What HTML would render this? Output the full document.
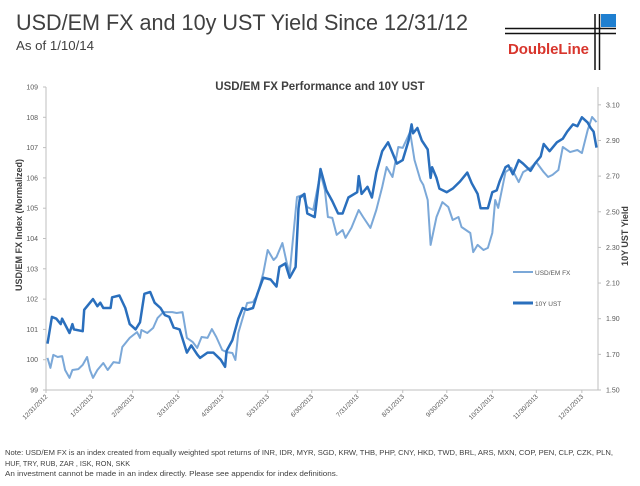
<!DOCTYPE html>
<html><head><meta charset="utf-8"><style>
html,body{margin:0;padding:0;background:#fff;}
svg{display:block;font-family:"Liberation Sans",sans-serif;}
</style></head><body>
<svg id="c" width="640" height="486" viewBox="0 0 640 486" xmlns="http://www.w3.org/2000/svg">
<text x="16" y="30" font-size="22" fill="#404040" textLength="452" lengthAdjust="spacingAndGlyphs">USD/EM FX and 10y UST Yield Since 12/31/12</text>
<text x="16" y="50" font-size="13" fill="#404040" textLength="78" lengthAdjust="spacingAndGlyphs">As of 1/10/14</text>
<g>
<line x1="505" y1="28.5" x2="616" y2="28.5" stroke="#111" stroke-width="1.5"/>
<line x1="505" y1="33.5" x2="616" y2="33.5" stroke="#111" stroke-width="1.5"/>
<line x1="595" y1="14" x2="595" y2="70" stroke="#111" stroke-width="1.5"/>
<line x1="599.5" y1="14" x2="599.5" y2="70" stroke="#111" stroke-width="1.5"/>
<rect x="601" y="14" width="15" height="13" fill="#1f7fd0"/>
<text x="508" y="54" font-size="15" font-weight="bold" fill="#d8352c" textLength="81">DoubleLine</text>
</g>
<text x="320" y="90" font-size="11.5" font-weight="bold" fill="#404040" text-anchor="middle">USD/EM FX Performance and 10Y UST</text>
<g id="axes"></g>
<g id="plot"></g>
<g>
<line x1="513" y1="272" x2="533" y2="272" stroke="#7ba8d8" stroke-width="2"/>
<text x="535" y="275" font-size="6.5" fill="#595959">USD/EM FX</text>
<line x1="513" y1="303" x2="533" y2="303" stroke="#2a6fbd" stroke-width="3"/>
<text x="535" y="306" font-size="6.5" fill="#595959">10Y UST</text>
</g>
<text transform="translate(22,225) rotate(-90)" font-size="9" font-weight="bold" fill="#404040" text-anchor="middle">USD/EM FX Index (Normalized)</text>
<text transform="translate(628,236) rotate(-90)" font-size="9" font-weight="bold" fill="#404040" text-anchor="middle">10Y UST Yield</text>
<g font-size="7.5" fill="#404040">
<text x="5" y="455" textLength="608" lengthAdjust="spacingAndGlyphs">Note: USD/EM FX is an index created from equally weighted spot returns of INR, IDR, MYR, SGD, KRW, THB, PHP, CNY, HKD, TWD, BRL, ARS, MXN, COP, PEN, CLP, CZK, PLN,</text>
<text x="5" y="466" textLength="125" lengthAdjust="spacingAndGlyphs">HUF, TRY, RUB, ZAR , ISK, RON, SKK</text>
<text x="5" y="476" textLength="333" lengthAdjust="spacingAndGlyphs">An investment cannot be made in an index directly. Please see appendix for index definitions.</text>
</g>
</svg>
<script>
const leftTicks=[99,100,101,102,103,104,105,106,107,108,109];
const rightTicks=["1.50","1.70","1.90","2.10","2.30","2.50","2.70","2.90","3.10"];
const dateLabels=["12/31/2012","1/31/2013","2/28/2013","3/31/2013","4/30/2013","5/31/2013","6/30/2013","7/31/2013","8/31/2013","9/30/2013","10/31/2013","11/30/2013","12/31/2013"];
const dateDays=[0,31,59,90,120,151,181,212,243,273,304,334,365];
const ustDays=[1,4,7,10,11,16,18,19,25,26,30,32,35,37,39,44,45,50,54,57,61,64,67,71,74,78,81,84,87,91,96,99,103,105,110,114,119,122,123,127,131,134,137,141,144,148,153,157,159,163,166,170,172,173,176,178,183,187,191,195,199,202,206,212,213,215,219,222,225,229,233,236,239,243,247,249,250,253,256,260,262,263,266,268,273,277,282,287,290,294,296,301,304,307,309,313,315,318,322,325,330,333,337,339,343,348,352,355,359,362,365,369,371,373,375];
const ustYield=[1.76,1.91,1.90,1.87,1.90,1.82,1.87,1.84,1.83,1.95,1.99,2.01,1.97,1.99,1.96,1.96,2.02,2.03,1.96,1.87,1.84,1.88,2.04,2.05,1.99,1.96,1.92,1.91,1.85,1.84,1.71,1.75,1.70,1.68,1.71,1.71,1.67,1.63,1.72,1.78,1.90,1.96,1.95,1.96,2.04,2.13,2.12,2.08,2.19,2.21,2.13,2.19,2.52,2.58,2.60,2.49,2.47,2.74,2.62,2.56,2.49,2.49,2.58,2.61,2.70,2.60,2.64,2.58,2.72,2.84,2.89,2.83,2.77,2.79,2.90,2.99,2.94,2.97,2.90,2.85,2.69,2.75,2.69,2.63,2.61,2.63,2.67,2.72,2.66,2.60,2.52,2.52,2.61,2.62,2.67,2.75,2.76,2.71,2.79,2.77,2.73,2.77,2.81,2.88,2.84,2.89,2.91,2.95,2.99,2.98,3.03,3.00,2.97,2.95,2.86];
const fxDays=[1,3,5,8,11,13,16,18,22,25,28,30,32,35,39,42,46,50,52,57,62,64,65,69,73,76,80,86,89,93,96,100,103,106,110,113,116,120,123,127,129,131,137,141,144,148,151,155,157,161,164,166,171,175,178,182,187,190,192,195,198,202,204,208,213,216,221,225,229,232,236,240,243,248,251,255,257,260,262,266,270,274,277,281,283,289,291,294,298,301,304,306,308,313,317,322,325,330,334,339,342,345,349,352,357,362,365,369,372,375];
const fxIndex=[100.06,99.73,100.16,100.09,100.12,99.66,99.40,99.66,99.69,99.83,100.09,99.66,99.40,99.66,99.89,99.66,99.92,99.89,100.42,100.72,100.91,100.72,100.98,100.88,101.05,101.38,101.57,101.57,101.54,101.57,100.72,100.58,100.39,100.75,100.72,101.01,100.75,100.32,100.25,100.22,99.99,100.88,101.87,101.90,102.14,102.86,103.62,103.29,103.39,103.85,103.19,102.86,105.37,105.44,105.04,104.94,106.16,105.60,104.71,104.68,104.12,104.28,104.02,104.35,104.94,104.71,104.35,104.94,105.70,106.36,106.03,107.02,106.99,107.51,106.59,105.93,105.77,105.27,103.79,104.71,105.20,105.04,104.61,104.71,104.38,104.18,103.55,103.79,103.62,103.69,104.18,105.27,105.01,106.19,106.33,105.86,106.19,106.33,106.52,106.19,106.03,106.10,106.26,107.02,106.85,106.92,106.82,107.58,108.01,107.84];

const X0=46,X1=598,Y0=390,Y1=87,DMAX=376;
const xs=d=>X0+d*(X1-X0)/DMAX;
const yL=v=>Y0-(v-99)*(Y0-Y1)/10;
const yR=v=>Y0-(v-1.5)*(Y0-Y1)/1.7;
const NS='http://www.w3.org/2000/svg';
function mk(tag,attrs,parent,txt){const e=document.createElementNS(NS,tag);for(const k in attrs)e.setAttribute(k,attrs[k]);if(txt!==undefined)e.textContent=txt;parent.appendChild(e);return e;}
const axes=document.getElementById('axes'),plot=document.getElementById('plot');
let e;
e=mk('line',{x1:X0,y1:Y1,x2:X0,y2:Y0,stroke:'#bfbfbf','stroke-width':1},axes);


e=mk('line',{x1:X1,y1:Y1,x2:X1,y2:Y0,stroke:'#bfbfbf','stroke-width':1},axes);


e=mk('line',{x1:X0,y1:Y0,x2:X1,y2:Y0,stroke:'#bfbfbf','stroke-width':1},axes);


leftTicks.forEach(v=>{
  const y=yL(v);
  mk('line',{x1:X0-3,y1:y,x2:X0,y2:y,stroke:'#bfbfbf'},axes);
  e=mk('text',{x:X0-8,y:y+2.5,'font-size':7,fill:'#595959','text-anchor':'end'},axes,String(v));
  
  
});
rightTicks.forEach(v=>{
  const y=yR(parseFloat(v));
  mk('line',{x1:X1,y1:y,x2:X1+3,y2:y,stroke:'#bfbfbf'},axes);
  e=mk('text',{x:X1+8,y:y+2.5,'font-size':7,fill:'#595959'},axes,v);
  
  
});
dateLabels.forEach((lab,i)=>{
  const x=xs(dateDays[i]);
  mk('line',{x1:x,y1:Y0,x2:x,y2:Y0+3,stroke:'#bfbfbf'},axes);
  e=mk('text',{transform:`translate(${x+2},${Y0+7}) rotate(-45)`,'font-size':6.5,fill:'#595959','text-anchor':'end'},axes,lab);
  
  
});
const fxPts=fxDays.map((d,i)=>xs(d).toFixed(1)+','+yL(fxIndex[i]).toFixed(1)).join(' ');
e=mk('polyline',{points:fxPts,fill:'none',stroke:'#7ba8d8','stroke-width':2,'stroke-linejoin':'round'},plot);


const ustPts=ustDays.map((d,i)=>xs(d).toFixed(1)+','+yR(ustYield[i]).toFixed(1)).join(' ');
e=mk('polyline',{points:ustPts,fill:'none',stroke:'#2a6fbd','stroke-width':2.5,'stroke-linejoin':'round'},plot);


</script>
</body></html>
